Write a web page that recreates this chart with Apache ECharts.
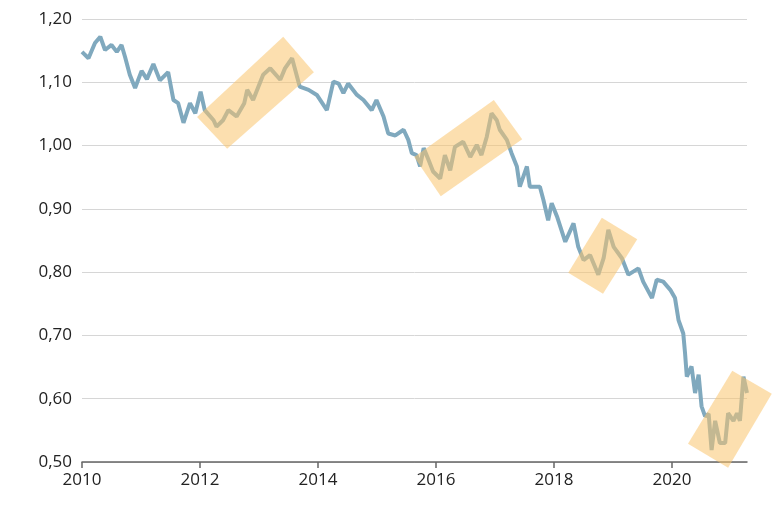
<!DOCTYPE html>
<html><head><meta charset="utf-8">
<script src="https://cdn.jsdelivr.net/npm/echarts@6/dist/echarts.min.js"></script>
<style>html,body{margin:0;padding:0;background:#fff}#c{width:778px;height:518px}</style>
</head><body><div id="c"></div>
<script>
const years = [2010.00,2010.11,2010.22,2010.31,2010.39,2010.50,2010.59,2010.67,2010.73,2010.81,2010.90,2011.01,2011.10,2011.21,2011.32,2011.46,2011.55,2011.63,2011.72,2011.83,2011.92,2012.01,2012.08,2012.23,2012.28,2012.39,2012.48,2012.62,2012.75,2012.80,2012.90,2013.07,2013.19,2013.36,2013.44,2013.56,2013.69,2013.84,2013.98,2014.15,2014.26,2014.35,2014.43,2014.51,2014.66,2014.77,2014.91,2014.99,2015.11,2015.19,2015.31,2015.45,2015.53,2015.59,2015.67,2015.73,2015.79,2015.87,2015.95,2016.07,2016.15,2016.24,2016.32,2016.46,2016.58,2016.69,2016.77,2016.86,2016.94,2017.03,2017.08,2017.20,2017.28,2017.37,2017.42,2017.54,2017.59,2017.76,2017.82,2017.90,2017.96,2018.05,2018.19,2018.33,2018.41,2018.50,2018.61,2018.75,2018.84,2018.92,2019.01,2019.15,2019.26,2019.43,2019.51,2019.66,2019.74,2019.85,2019.97,2020.05,2020.11,2020.19,2020.22,2020.25,2020.33,2020.39,2020.45,2020.50,2020.56,2020.62,2020.67,2020.73,2020.81,2020.90,2020.95,2021.04,2021.10,2021.15,2021.21,2021.27];
const rates = [1.148,1.138,1.162,1.172,1.151,1.159,1.148,1.159,1.140,1.112,1.091,1.118,1.105,1.129,1.103,1.116,1.072,1.067,1.036,1.067,1.051,1.085,1.056,1.040,1.030,1.040,1.056,1.046,1.067,1.088,1.072,1.112,1.122,1.104,1.122,1.138,1.093,1.088,1.080,1.056,1.101,1.098,1.083,1.098,1.080,1.072,1.056,1.072,1.046,1.019,1.016,1.025,1.009,0.988,0.985,0.967,0.996,0.978,0.959,0.948,0.985,0.961,0.998,1.006,0.982,1.001,0.985,1.014,1.051,1.040,1.025,1.009,0.988,0.967,0.935,0.967,0.935,0.935,0.914,0.882,0.909,0.888,0.848,0.877,0.840,0.819,0.827,0.796,0.822,0.867,0.840,0.822,0.796,0.806,0.785,0.759,0.788,0.785,0.772,0.759,0.724,0.703,0.672,0.635,0.651,0.609,0.638,0.588,0.572,0.576,0.519,0.565,0.530,0.530,0.577,0.565,0.577,0.565,0.635,0.609];
const highlightBoxes = [
  [[2011.95,1.045],[2013.41,1.172],[2013.93,1.116],[2012.46,0.995]],
  [[2015.63,0.982],[2016.98,1.072],[2017.46,1.010],[2016.08,0.920]],
  [[2018.24,0.799],[2018.81,0.886],[2019.41,0.852],[2018.83,0.766]],
  [[2020.27,0.529],[2021.02,0.644],[2021.69,0.608],[2020.95,0.491]]
];
const yTicks = [0.5,0.6,0.7,0.8,0.9,1.0,1.1,1.2];

const chart = echarts.init(document.getElementById('c'));
chart.setOption({
  animation:false,
  grid:{left:82,right:31,top:19,bottom:56},
  xAxis:{type:'value',min:2010,max:2021.27,interval:2,
    axisLine:{lineStyle:{color:'#666',width:1.5}},
    axisTick:{show:true,length:6,lineStyle:{color:'#666',width:1.5}},
    splitLine:{show:false},
    axisLabel:{showMaxLabel:false,color:'#222',fontSize:17,fontFamily:'Open Sans',margin:10,formatter:v=>String(Math.round(v))}},
  yAxis:{type:'value',min:yTicks[0],max:yTicks[yTicks.length-1],interval:0.1,
    axisLine:{show:false},axisTick:{show:false},
    splitLine:{lineStyle:{color:'#d6d6d6',width:1}},
    axisLabel:{color:'#222',fontSize:17,fontFamily:'Open Sans',margin:10,formatter:v=>v.toFixed(2).replace('.',',')}},
  series:[
    {type:'line',data:years.map((y,i)=>[y,rates[i]]),showSymbol:false,
     lineStyle:{color:'#80a9be',width:4},z:2},
    {type:'custom',clip:false,z:3,data:highlightBoxes.map((b,i)=>i),
     renderItem:(params,api)=>{
       const pts = highlightBoxes[params.dataIndex].map(p=>api.coord(p));
       return {type:'polygon',shape:{points:pts},style:{fill:'rgba(250,196,110,0.55)'}};
     }}
  ]
});
</script></body></html>
